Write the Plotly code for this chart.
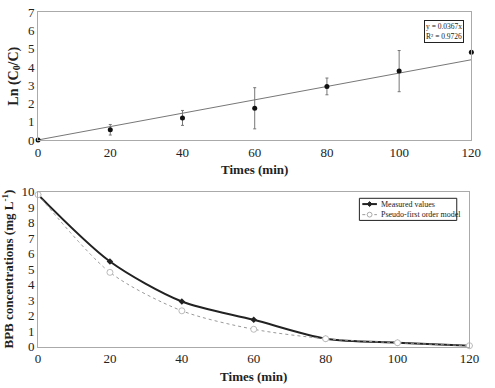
import plotly.graph_objects as go

# Top panel: ln(C0/C) vs time
times = [0, 20, 40, 60, 80, 100, 120]
ln_ratio = [0, 0.56, 1.21, 1.74, 2.94, 3.78, 4.82]
ln_err = [0, 0.29, 0.41, 1.13, 0.46, 1.13, 0]
slope = 0.0367
fit_x = [0, 120]
fit_y = [slope * x for x in fit_x]
eq_text = "y = 0.0367x<br>R² = 0.9726"

# Bottom panel: BPB concentrations
measured = [9.8, 5.49, 2.91, 1.73, 0.51, 0.25, 0.06]
model = [9.8, 4.79, 2.31, 1.12, 0.51, 0.25, 0.06]
legend_names = ["Measured values", "Pseudo-first order model"]

W, H = 495, 388
font = "Liberation Serif"

fig = go.Figure()

fig.add_trace(go.Scatter(x=fit_x, y=fit_y, mode="lines",
                         line=dict(color="#777", width=1),
                         showlegend=False, xaxis="x", yaxis="y", cliponaxis=False))
fig.add_trace(go.Scatter(x=times, y=ln_ratio, mode="markers",
                         marker=dict(color="#111", size=5, symbol="circle"),
                         error_y=dict(type="data", array=ln_err, color="#777",
                                      thickness=1, width=1.5),
                         showlegend=False, xaxis="x", yaxis="y", cliponaxis=False))

fig.add_trace(go.Scatter(x=times, y=measured, mode="lines+markers",
                         name=legend_names[0], showlegend=False,
                         line=dict(color="#222", width=2, shape="spline", smoothing=0.8),
                         marker=dict(color="#222", size=5, symbol="diamond"),
                         xaxis="x2", yaxis="y2", cliponaxis=False))
fig.add_trace(go.Scatter(x=times, y=model, mode="lines+markers",
                         name=legend_names[1], showlegend=False,
                         line=dict(color="#999", width=1, dash="dot", shape="spline", smoothing=0.8),
                         marker=dict(color="white", size=6, symbol="circle",
                                     line=dict(color="#bbb", width=1)),
                         xaxis="x2", yaxis="y2", cliponaxis=False))

axis_common = dict(showgrid=False, zeroline=False, showline=True, linecolor="#aaa",
                   linewidth=1, mirror=True, ticks="", color="#222",
                   tickfont=dict(family=font, size=13, color="#222"))

fig.update_layout(
    width=W, height=H, margin=dict(l=0, r=0, t=0, b=0),
    paper_bgcolor="white", plot_bgcolor="white",
    font=dict(family=font, color="#222"),
    showlegend=False,
    xaxis=dict(domain=[36 / W, 481 / W], range=[0, 120], dtick=20, anchor="y",
               title=dict(text="<b>Times (min)</b>", font=dict(family=font, size=13), standoff=6),
               **axis_common),
    yaxis=dict(domain=[1 - 138.3 / H, 1 - 5.7 / H], range=[0, 7], dtick=1, anchor="x",
               title=dict(text="<b>Ln (C<sub>0</sub>/C)</b>", font=dict(family=font, size=14), standoff=6),
               **axis_common),
    xaxis2=dict(domain=[36 / W, 479 / W], range=[0, 120], dtick=20, anchor="y2",
                title=dict(text="<b>Times (min)</b>", font=dict(family=font, size=13), standoff=6),
                **axis_common),
    yaxis2=dict(domain=[1 - 353.3 / H, 1 - 192 / H], range=[0, 10], dtick=1, anchor="x2",
                title=dict(text="<b>BPB concentrations (mg L<sup>-1</sup>)</b>",
                           font=dict(family=font, size=13), standoff=6),
                **axis_common),
)

# equation box
fig.add_annotation(x=473 / W, xanchor="right", y=1 - 14 / H, yanchor="top",
                   xref="paper", yref="paper", text=eq_text, showarrow=False,
                   align="left", font=dict(family=font, size=7.5, color="#222"),
                   bordercolor="#222", borderwidth=1, borderpad=1, bgcolor="white")

# compact legend box (bottom panel)
px = lambda v: v / W
py = lambda v: 1 - v / H
fig.add_shape(type="rect", xref="paper", yref="paper",
              x0=px(366), x1=px(466), y0=py(199), y1=py(222),
              line=dict(color="#222", width=1), fillcolor="white")
rows = [205, 216]
styles = [dict(color="#222", width=2, dash="solid"), dict(color="#999", width=1, dash="dot")]
for name, ry, st in zip(legend_names, rows, styles):
    fig.add_shape(type="line", xref="paper", yref="paper",
                  x0=px(369), x1=px(384), y0=py(ry), y1=py(ry), line=st)
    fig.add_annotation(x=px(386), xanchor="left", y=py(ry), yanchor="middle",
                       xref="paper", yref="paper", text=name, showarrow=False,
                       font=dict(family=font, size=8, color="#222"))
# legend markers
fig.add_shape(type="path", xref="paper", yref="paper",
              path=f"M {px(376.5)} {py(202.5)} L {px(379)} {py(205)} L {px(376.5)} {py(207.5)} L {px(374)} {py(205)} Z",
              fillcolor="#222", line=dict(color="#222", width=1))
fig.add_shape(type="circle", xref="paper", yref="paper",
              x0=px(374), x1=px(379), y0=py(213.5), y1=py(218.5),
              fillcolor="white", line=dict(color="#aaa", width=1))

fig.write_html("out.html")
